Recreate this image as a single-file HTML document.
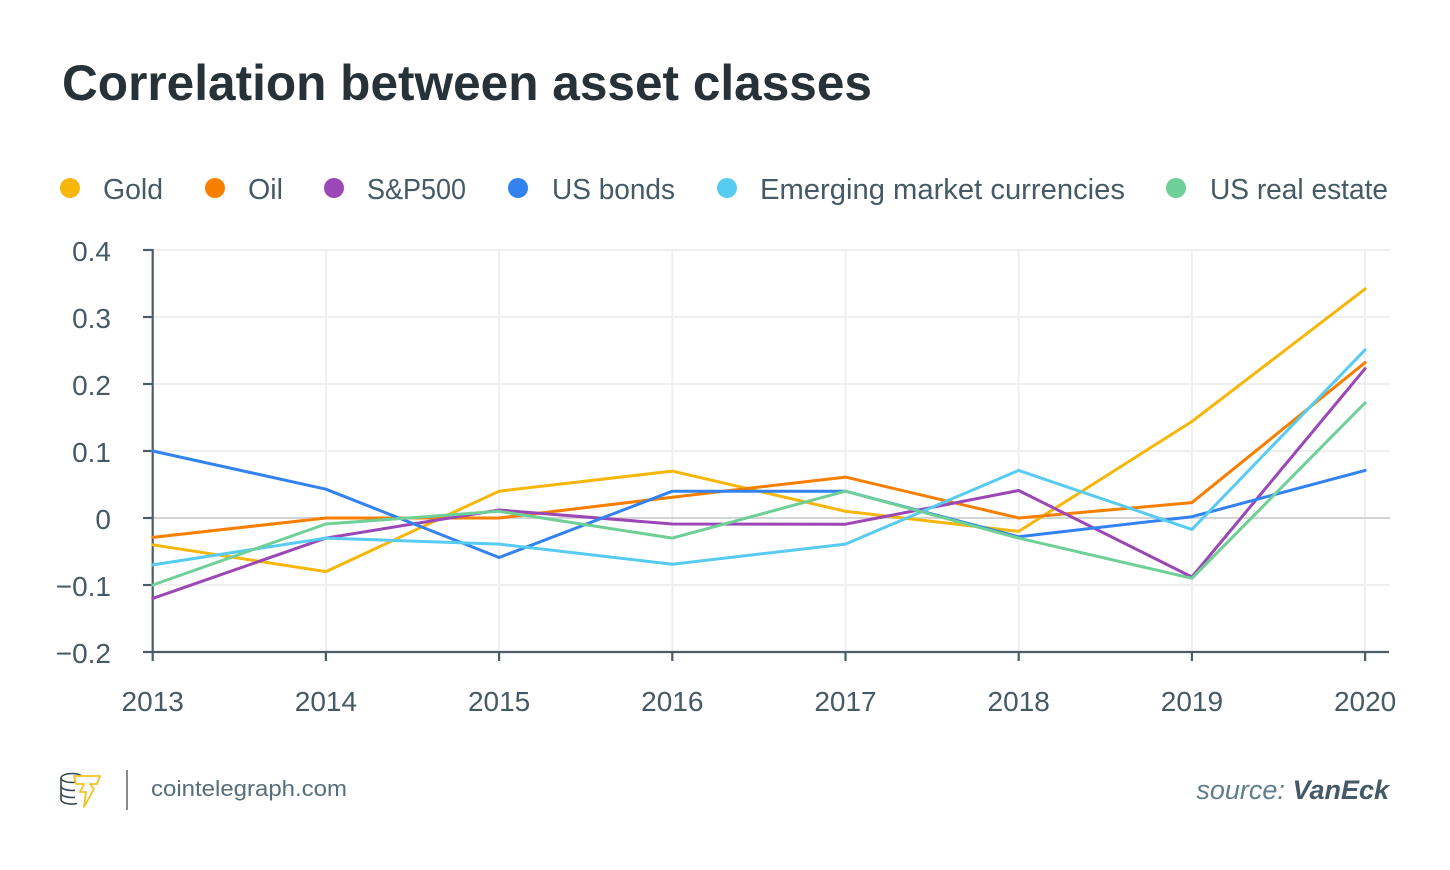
<!DOCTYPE html>
<html>
<head>
<meta charset="utf-8">
<style>
  html,body{margin:0;padding:0;background:#fff;}
  svg{display:block;}
  text{font-family:"Liberation Sans", Arial, sans-serif;}
</style>
</head>
<body>
<svg width="1450" height="870" viewBox="0 0 1450 870" xmlns="http://www.w3.org/2000/svg">
  <rect width="1450" height="870" fill="#fff"/>
  <!-- Title -->
  <text x="62" y="100" font-size="50" font-weight="bold" fill="#263238" textLength="810" lengthAdjust="spacingAndGlyphs">Correlation between asset classes</text>

  <!-- Legend -->
  <g font-size="29" fill="#455a64">
    <circle cx="70" cy="188" r="10" fill="#f6b60a"/>
    <text x="103" y="199" textLength="60" lengthAdjust="spacingAndGlyphs">Gold</text>
    <circle cx="215" cy="188" r="10" fill="#f77f00"/>
    <text x="248" y="199" textLength="35" lengthAdjust="spacingAndGlyphs">Oil</text>
    <circle cx="334" cy="188" r="10" fill="#9c47b6"/>
    <text x="367" y="199" textLength="99" lengthAdjust="spacingAndGlyphs">S&amp;P500</text>
    <circle cx="518" cy="188" r="10" fill="#3282ef"/>
    <text x="552" y="199" textLength="123" lengthAdjust="spacingAndGlyphs">US bonds</text>
    <circle cx="727" cy="188" r="10" fill="#57cbf2"/>
    <text x="760" y="199" textLength="365" lengthAdjust="spacingAndGlyphs">Emerging market currencies</text>
    <circle cx="1176" cy="188" r="10" fill="#6ecf97"/>
    <text x="1210" y="199" textLength="178" lengthAdjust="spacingAndGlyphs">US real estate</text>
  </g>

  <!-- Grid -->
  <g stroke="#efefef" stroke-width="2">
    <line x1="152" y1="250" x2="1390" y2="250"/>
    <line x1="152" y1="317" x2="1390" y2="317"/>
    <line x1="152" y1="384" x2="1390" y2="384"/>
    <line x1="152" y1="451" x2="1390" y2="451"/>
    <line x1="152" y1="585" x2="1390" y2="585"/>
    <line x1="325.9" y1="250" x2="325.9" y2="652"/>
    <line x1="499.1" y1="250" x2="499.1" y2="652"/>
    <line x1="672.3" y1="250" x2="672.3" y2="652"/>
    <line x1="845.5" y1="250" x2="845.5" y2="652"/>
    <line x1="1018.7" y1="250" x2="1018.7" y2="652"/>
    <line x1="1191.9" y1="250" x2="1191.9" y2="652"/>
    <line x1="1365.1" y1="250" x2="1365.1" y2="652"/>
  </g>
  <line x1="152" y1="518" x2="1390" y2="518" stroke="#d2d4d6" stroke-width="2"/>

  <!-- Axes -->
  <g stroke="#4b5d68" stroke-width="2.2">
    <line x1="152.7" y1="249" x2="152.7" y2="661"/>
    <line x1="143" y1="652" x2="1389" y2="652"/>
    <line x1="143" y1="250" x2="152.7" y2="250"/>
    <line x1="143" y1="317" x2="152.7" y2="317"/>
    <line x1="143" y1="384" x2="152.7" y2="384"/>
    <line x1="143" y1="451" x2="152.7" y2="451"/>
    <line x1="143" y1="518" x2="152.7" y2="518"/>
    <line x1="143" y1="585" x2="152.7" y2="585"/>
    <line x1="325.9" y1="652" x2="325.9" y2="661"/>
    <line x1="499.1" y1="652" x2="499.1" y2="661"/>
    <line x1="672.3" y1="652" x2="672.3" y2="661"/>
    <line x1="845.5" y1="652" x2="845.5" y2="661"/>
    <line x1="1018.7" y1="652" x2="1018.7" y2="661"/>
    <line x1="1191.9" y1="652" x2="1191.9" y2="661"/>
    <line x1="1365.1" y1="652" x2="1365.1" y2="661"/>
  </g>

  <!-- Y labels -->
  <g font-size="28" fill="#455a64" text-anchor="end">
    <text x="111" y="261">0.4</text>
    <text x="111" y="328">0.3</text>
    <text x="111" y="395">0.2</text>
    <text x="111" y="462">0.1</text>
    <text x="111" y="529">0</text>
    <text x="111" y="596">−0.1</text>
    <text x="111" y="663">−0.2</text>
  </g>
  <!-- X labels -->
  <g font-size="28" fill="#455a64" text-anchor="middle">
    <text x="152.7" y="711">2013</text>
    <text x="325.9" y="711">2014</text>
    <text x="499.1" y="711">2015</text>
    <text x="672.3" y="711">2016</text>
    <text x="845.5" y="711">2017</text>
    <text x="1018.7" y="711">2018</text>
    <text x="1191.9" y="711">2019</text>
    <text x="1365.1" y="711">2020</text>
  </g>

  <!-- Series -->
  <g fill="none" stroke-width="3" stroke-linejoin="round" stroke-linecap="round">
    <polyline stroke="#f6b60a" points="152.7,544.8 325.9,571.6 499.1,491.2 672.3,471.1 845.5,511.3 1018.7,531.4 1191.9,421.5 1365.1,288.9"/>
    <polyline stroke="#f77f00" points="152.7,537.4 325.9,518 499.1,518 672.3,497.2 845.5,477.1 1018.7,518 1191.9,502.6 1365.1,362.6"/>
    <polyline stroke="#9c47b6" points="152.7,598.4 325.9,538.1 499.1,510 672.3,524 845.5,524.2 1018.7,490.5 1191.9,577 1365.1,368.6"/>
    <polyline stroke="#3282ef" points="152.7,451 325.9,489.2 499.1,557.5 672.3,491.2 845.5,491.2 1018.7,536.8 1191.9,516.7 1365.1,470.4"/>
    <polyline stroke="#57cbf2" points="152.7,564.9 325.9,538.1 499.1,544.1 672.3,564.2 845.5,544.1 1018.7,470.4 1191.9,529.4 1365.1,349.8"/>
    <polyline stroke="#6ecf97" points="152.7,585 325.9,524 499.1,511.3 672.3,538.1 845.5,491.2 1018.7,538.1 1191.9,578.3 1365.1,402.8"/>
  </g>

  <!-- Footer logo -->
  <g fill="none" stroke="#37474f" stroke-width="1.6">
    <ellipse cx="72" cy="778" rx="11" ry="4.5"/>
    <path d="M61,778 v22 M83,778 v6"/>
    <path d="M61,786 a11,4.5 0 0 0 14,4.3"/>
    <path d="M61,793 a11,4.5 0 0 0 14,4.3"/>
    <path d="M61,800 a11,4.5 0 0 0 16,3.5"/>
  </g>
  <path d="M74,776 L100,776 L97,784 L90,784 L94,789 L84,807 L86,792 L80,792 L84,784 L76,784 Z" fill="#fff" stroke="#f6c223" stroke-width="1.8" stroke-linejoin="round"/>
  <line x1="127" y1="770" x2="127" y2="810" stroke="#8a8a8a" stroke-width="2"/>
  <text x="151" y="796" font-size="22" fill="#546e7a" textLength="196" lengthAdjust="spacingAndGlyphs">cointelegraph.com</text>

  <text x="1389" y="799" font-size="27" text-anchor="end" font-style="italic" fill="#607d8b"><tspan>source: </tspan><tspan font-weight="bold" fill="#455a64">VanEck</tspan></text>
</svg>
</body>
</html>
